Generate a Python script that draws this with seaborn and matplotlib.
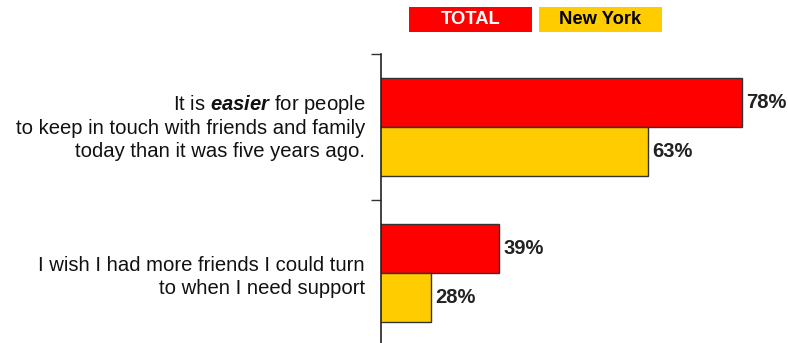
import matplotlib
matplotlib.use("Agg")
import matplotlib.pyplot as plt
import seaborn as sns
import pandas as pd
from matplotlib.patches import Rectangle

# Survey statements and results
statements = [
    "It is $\\mathbfit{easier}$ for people\nto keep in touch with friends and family\ntoday than it was five years ago.",
    "I wish I had more friends I could turn\nto when I need support",
]
series_names = ["TOTAL", "New York"]
total_values = [78, 39]
newyork_values = [63, 28]
series_colors = ["#FF0000", "#FFCC00"]
label_colors = ["white", "black"]

df = pd.DataFrame({
    "statement": statements * 2,
    "group": [series_names[0]] * 2 + [series_names[1]] * 2,
    "value": total_values + newyork_values,
})

sns.set_theme(style="white")
plt.rcParams["font.family"] = ["Liberation Sans", "DejaVu Sans"]
plt.rcParams["mathtext.fontset"] = "custom"
plt.rcParams["mathtext.rm"] = "Liberation Sans"
plt.rcParams["mathtext.bfit"] = "Liberation Sans:italic:bold"

W, H = 788, 343
fig = plt.figure(figsize=(W / 100, H / 100), dpi=100)
ax = fig.add_axes([381 / W, (H - 346) / H, 373 / W, 292 / H])

sns.barplot(data=df, y="statement", x="value", hue="group", orient="h",
            hue_order=series_names, palette=series_colors, saturation=1,
            width=0.67, edgecolor="#333333", linewidth=1, legend=False, ax=ax)

ax.set_xlim(20, 80)
ax.set_ylim(1.5, -0.5)
ax.set_xlabel("")
ax.set_ylabel("")
ax.set_xticks([])
ax.set_yticks([-0.5, 0.5, 1.5])
ax.set_yticklabels([])
ax.tick_params(axis="y", length=7, width=1, color="#333333", left=True, direction="out")
for side in ["top", "right", "bottom"]:
    ax.spines[side].set_visible(False)
ax.spines["left"].set_color("#222222")
ax.spines["left"].set_linewidth(1.2)

# Value labels at the bar ends
for container in ax.containers:
    ax.bar_label(container, fmt="%d%%", padding=3, fontsize=14.5,
                 fontweight="bold", color="#222222")

# Category labels to the left of the axis
label_offsets = [0.0, 0.03]
for i, text in enumerate(statements):
    ax.annotate(text, xy=(0, i + label_offsets[i]), xycoords=("axes fraction", "data"),
                xytext=(-16, 0), textcoords="offset pixels",
                ha="right", va="center", multialignment="right",
                fontsize=14.6, color="#111111", linespacing=1.26)

# Legend boxes above the chart
box_x = [409, 539]
box_w = 123
for name, col, tcol, x0 in zip(series_names, series_colors, label_colors, box_x):
    fig.patches.append(Rectangle((x0 / W, (H - 32) / H), box_w / W, 25 / H,
                                 transform=fig.transFigure, facecolor=col,
                                 edgecolor="none"))
    fig.text((x0 + box_w / 2) / W, (H - 19.5) / H, name, ha="center", va="center",
             fontsize=13.2, fontweight="bold", color=tcol)

fig.savefig("out.png", dpi=100)
